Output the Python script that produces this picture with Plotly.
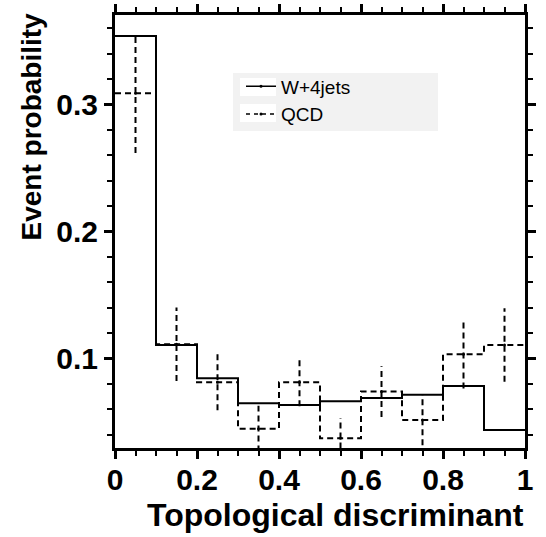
import plotly.graph_objects as go

# Data
bin_edges = [0.0, 0.1, 0.2, 0.3, 0.4, 0.5, 0.6, 0.7, 0.8, 0.9, 1.0]
bin_centers = [0.05, 0.15, 0.25, 0.35, 0.45, 0.55, 0.65, 0.75, 0.85, 0.95]
w4jets = [0.354, 0.1106, 0.0844, 0.0647, 0.0634, 0.0663, 0.0689, 0.0715, 0.0783, 0.0437]
qcd = [0.3088, 0.1112, 0.0813, 0.0447, 0.0813, 0.0372, 0.0739, 0.0516, 0.1033, 0.1106]
qcd_err = [0.047, 0.029, 0.022, 0.018, 0.019, 0.016, 0.020, 0.020, 0.027, 0.029]
x_ticks = [0, 0.2, 0.4, 0.6, 0.8, 1.0]
x_ticktext = ["0", "0.2", "0.4", "0.6", "0.8", "1"]
y_ticks = [0.1, 0.2, 0.3]
y_ticktext = ["0.1", "0.2", "0.3"]

FONT = "Liberation Sans, Arial, sans-serif"

# plot area in pixels
L, R, T, B = 115, 525, 15, 448
W, H = 546, 537


def px(x):
    return (x - L) / (R - L)


def py(y):
    return 1 - (y - T) / (B - T)


fig = go.Figure()

# W+4jets step histogram
fig.add_trace(go.Scatter(
    x=bin_edges, y=w4jets + [w4jets[-1]], mode="lines", line_shape="hv",
    line=dict(color="black", width=2), showlegend=False, hoverinfo="skip"))

# QCD step histogram
fig.add_trace(go.Scatter(
    x=bin_edges, y=qcd + [qcd[-1]], mode="lines", line_shape="hv",
    line=dict(color="black", width=2, dash="6px,4px"), showlegend=False, hoverinfo="skip"))

# QCD error bars (dashed vertical segments)
ex, ey = [], []
for c, v, e in zip(bin_centers, qcd, qcd_err):
    ex += [c, c, None]
    ey += [v - e, v + e, None]
fig.add_trace(go.Scatter(
    x=ex, y=ey, mode="lines", line=dict(color="black", width=2, dash="6px,4px"),
    showlegend=False, hoverinfo="skip"))
fig.add_trace(go.Scatter(
    x=bin_centers, y=qcd, mode="markers", marker=dict(color="black", size=3),
    showlegend=False, hoverinfo="skip"))

# Legend entries
fig.add_trace(go.Scatter(
    x=[None], y=[None], mode="lines+markers", name="W+4jets",
    line=dict(color="black", width=1.5), marker=dict(color="black", size=3)))
fig.add_trace(go.Scatter(
    x=[None], y=[None], mode="lines+markers", name="QCD",
    line=dict(color="black", width=1.5, dash="4px,4px"), marker=dict(color="black", size=3)))

axis_common = dict(
    showline=True, linecolor="black", linewidth=3, mirror="ticks",
    ticks="outside", ticklen=8, tickwidth=3, tickcolor="black",
    showgrid=False, zeroline=False, automargin=False,
    tickfont=dict(family=FONT, size=30, color="black", weight="bold"),
)

fig.update_xaxes(
    range=[0, 1], tickvals=x_ticks, ticktext=x_ticktext,
    ticklabelstandoff=-5,
    minor=dict(dtick=0.05, tick0=0, ticks="outside", ticklen=5, tickwidth=2, tickcolor="black"),
    **axis_common)
fig.update_yaxes(
    range=[0.0295, 0.3705], tickvals=y_ticks, ticktext=y_ticktext,
    minor=dict(dtick=0.02, tick0=0, ticks="outside", ticklen=5, tickwidth=2, tickcolor="black"),
    **axis_common)

shapes = [
    dict(type="rect", xref="paper", yref="paper", layer="below",
         x0=px(233), x1=px(438), y0=py(131), y1=py(73),
         fillcolor="#f2f2f2", line=dict(width=0)),
    dict(type="rect", xref="paper", yref="paper", layer="below",
         x0=px(240), x1=px(276), y0=py(96), y1=py(78),
         fillcolor="white", line=dict(width=0)),
    dict(type="rect", xref="paper", yref="paper", layer="below",
         x0=px(240), x1=px(276), y0=py(122), y1=py(104),
         fillcolor="white", line=dict(width=0)),
]

fig.update_layout(
    width=W, height=H,
    margin=dict(l=L, r=W - R, t=T, b=H - B, autoexpand=False),
    paper_bgcolor="white", plot_bgcolor="white",
    font=dict(family=FONT, color="black"),
    shapes=shapes,
    legend=dict(
        x=px(241), y=py(73) + 0.013, xanchor="left", yanchor="top",
        bgcolor="rgba(0,0,0,0)", borderwidth=0,
        font=dict(family=FONT, size=19, color="black"),
        tracegroupgap=0, itemwidth=30,
    ),
    annotations=[
        dict(text="Event probability", xref="paper", yref="paper",
             x=px(31), y=py(126.5), xanchor="center", yanchor="middle",
             textangle=-90, showarrow=False,
             font=dict(family=FONT, size=28, color="black", weight="bold")),
        dict(text="Topological discriminant", xref="paper", yref="paper",
             x=px(335), y=py(515), xanchor="center", yanchor="middle",
             showarrow=False,
             font=dict(family=FONT, size=32, color="black", weight="bold")),
    ],
)

fig.write_html("out.html")
